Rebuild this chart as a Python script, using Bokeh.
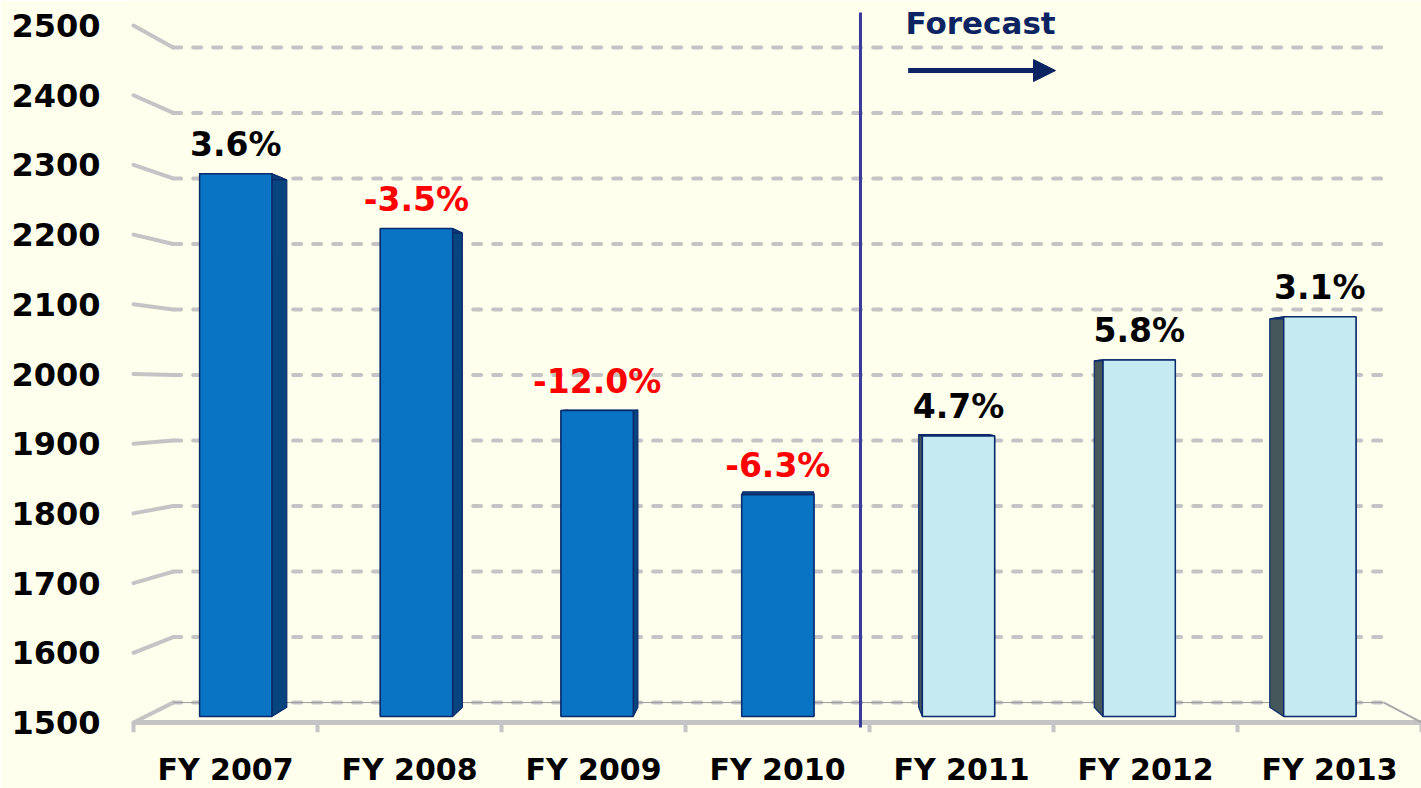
from bokeh.plotting import figure
from bokeh.models import Range1d, FixedTicker, Arrow, NormalHead, Label
from bokeh.embed import file_html
from bokeh.resources import INLINE
from bokeh.core.properties import value

# ---------------- data ----------------
years = ["FY 2007", "FY 2008", "FY 2009", "FY 2010", "FY 2011", "FY 2012", "FY 2013"]
values = [2293, 2213, 1947, 1824, 1910, 2021, 2084]
growth = ["3.6%", "-3.5%", "-12.0%", "-6.3%", "4.7%", "5.8%", "3.1%"]
n_actual = 4                      # FY2007..FY2010 actual, rest forecast
y_ticks = [1500, 1600, 1700, 1800, 1900, 2000, 2100, 2200, 2300, 2400, 2500]
base = 1500

# ---------------- perspective helpers (style) ----------------
VP = (3.593, 1976.0)      # vanishing point, front-plane data units
WALL_D = 0.06             # depth of back wall
BAR_D = 0.018             # depth of bar front face
BAR_BACK_D = 0.046        # depth of bar back face
HALF = 0.2                # half bar width (category units)

def proj(x, y, d):
    return VP[0] + (x - VP[0]) * (1 - d), VP[1] + (y - VP[1]) * (1 - d)

BG = "#FFFFEE"
GRID = "#C4C4C4"
FONT = value("DejaVu Sans")

p = figure(width=1421, height=788, output_backend="svg", toolbar_location=None,
           x_range=Range1d(-0.0163, 7.0), y_range=Range1d(1405.3, 2535.9),
           x_axis_location=None, min_border_left=130, min_border_right=0,
           min_border_top=0, min_border_bottom=0)
p.background_fill_color = BG
p.border_fill_color = BG
p.outline_line_color = None
p.grid.visible = False

n = len(years)
# ---------- back wall gridlines + left wings ----------
gx0, gy0, gx1, gy1 = [], [], [], []
wx0, wy0, wx1, wy1 = [], [], [], []
for v in y_ticks:
    a = proj(0, v, WALL_D)
    b = proj(n, v, WALL_D)
    gx0.append(a[0]); gy0.append(a[1]); gx1.append(b[0]); gy1.append(b[1])
    wx0.append(0); wy0.append(v); wx1.append(a[0]); wy1.append(a[1])
p.segment(gx0, gy0, gx1, gy1, line_color=GRID, line_width=4, line_dash="8 12", line_cap="round")
p.segment(wx0, wy0, wx1, wy1, line_color=GRID, line_width=4, line_cap="round")
p.segment([gx0[0]], [gy0[0]], [gx1[0]], [gy1[0]], line_color="#9A9A9A", line_width=1)

# ---------- floor ----------
p.segment([0], [base], [n], [base], line_color=GRID, line_width=5)
p.segment(list(range(n + 1)), [base] * (n + 1), list(range(n + 1)), [base - 14] * (n + 1),
          line_color=GRID, line_width=4)
fr = proj(n, base, WALL_D)
p.segment([n], [base], [fr[0]], [fr[1]], line_color="#A8A8A8", line_width=2)

# ---------- bars ----------
def face(pts):
    xs, ys = [], []
    for (x, y, d) in pts:
        q = proj(x, y, d)
        xs.append(q[0]); ys.append(q[1])
    return xs, ys

for i, v in enumerate(values):
    c = i + 0.5
    fc = i >= n_actual
    front = "#C6EAF1" if fc else "#0A74C4"
    side = "#46575C" if fc else "#08457E"
    top = "#24406E" if fc else "#0B3C78"
    edge = "#0B2A6B"
    xl, xr = c - HALF, c + HALF
    faces = [
        face([(xl, base, BAR_D), (xl, v, BAR_D), (xl, v, BAR_BACK_D), (xl, base, BAR_BACK_D)]),
        face([(xr, base, BAR_D), (xr, v, BAR_D), (xr, v, BAR_BACK_D), (xr, base, BAR_BACK_D)]),
    ]
    p.patches([f[0] for f in faces], [f[1] for f in faces], fill_color=side,
              line_color=edge, line_width=1.2)
    tx, ty = face([(xl, v, BAR_D), (xr, v, BAR_D), (xr, v, BAR_BACK_D), (xl, v, BAR_BACK_D)])
    p.patch(tx, ty, fill_color=top, line_color=edge, line_width=1.2)
    bl = proj(xl, base, BAR_D)
    tr = proj(xr, v, BAR_D)
    p.quad(left=[bl[0]], right=[tr[0]], bottom=[bl[1]], top=[tr[1]],
           fill_color=front, line_color=edge, line_width=1.5)
    lx, ly = proj(c, v, BAR_D)
    p.text([lx], [ly], text=[growth[i]], text_align="center", text_baseline="middle",
           y_offset=-29, text_font=FONT, text_font_style="bold", text_font_size="33px",
           text_color="#FF0000" if growth[i].startswith("-") else "#000000")

# ---------- category labels ----------
p.text([i + 0.5 for i in range(n)], [1433] * n, text=years, text_align="center",
       text_baseline="middle", text_font=FONT, text_font_style="bold",
       text_font_size="30px", text_color="#000000")

# ---------- forecast divider / label / arrow ----------
div_x = n_actual - 0.049
p.segment([div_x], [1492.8], [div_x], [2518.6], line_color="#3A3A9A", line_width=3)
p.add_layout(Label(x=n_actual + 0.196, y=2503.6, text="Forecast", text_font="DejaVu Sans",
                   text_font_style="bold", text_font_size="31px", text_color="#0C2461",
                   text_baseline="middle"))
p.add_layout(Arrow(end=NormalHead(size=22, fill_color="#0C2461", line_color="#0C2461"),
                   x_start=n_actual + 0.21, y_start=2435.4, x_end=n_actual + 1.011, y_end=2435.4,
                   line_color="#0C2461", line_width=5))

# ---------- y axis ----------
ax = p.yaxis[0]
ax.ticker = FixedTicker(ticks=y_ticks)
ax.axis_line_color = None
ax.major_tick_line_color = None
ax.minor_tick_line_color = None
ax.major_label_standoff = 24
ax.major_label_text_font = "DejaVu Sans"
ax.major_label_text_font_style = "bold"
ax.major_label_text_font_size = "32px"
ax.major_label_text_color = "#000000"

open("out.html", "w").write(file_html(p, INLINE))
